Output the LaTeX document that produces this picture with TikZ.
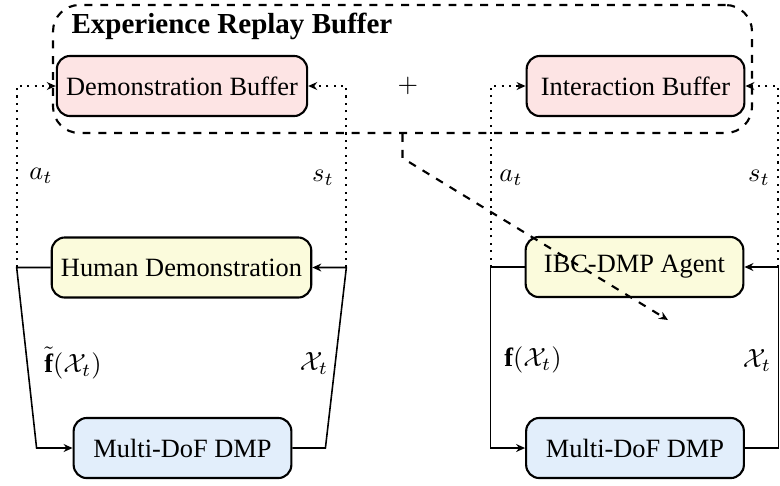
\documentclass[tikz,border=0pt]{standalone}
\usepackage{fontspec}
\setmainfont{Liberation Serif}
\usepackage{amsmath,amssymb}
\usetikzlibrary{arrows.meta, positioning, calc, fit}
\definecolor{BufferPink}{HTML}{FDE4E4}
\definecolor{AgentYellow}{HTML}{FBFBDC}
\definecolor{DmpBlue}{HTML}{E2EEFB}
\tikzset{
  >={Stealth[length=3.4pt, width=3pt, inset=1.1pt]},
  block/.style={draw, thick, rounded corners=5pt, minimum height=0.8cm,
                minimum width=2.9cm, inner sep=3.5pt},
  buffer/.style={block, fill=BufferPink},
  agent/.style={block, fill=AgentYellow},
  dmp/.style={block, fill=DmpBlue},
  flow/.style={->, semithick},
  store/.style={->, dotted, thick},
}
\begin{document}
\begin{tikzpicture}[x=0.379pt, y=-0.379pt]
        \useasboundingbox (0,0) rectangle (780,485);
        % buffers
        \node[buffer] (demo) at (182,86) {Demonstration Buffer};
        \node[buffer] (inter) at (635.5,86) {Interaction Buffer};
        \node (plus) at (408,86) {$+$};
        \node[anchor=west, inner sep=0pt] (title) at (71,26)
          {\fontsize{11}{13}\selectfont\bfseries Experience Replay Buffer};
        \node[draw, thick, dashed, rounded corners=10pt, inner sep=0pt,
              fit={(53,5) (752,133)}] (replay) {};
        % demonstration loop
        \node[agent] (human) at (181.5,267.5) {Human Demonstration};
        \node[dmp] (dmp1) at (182.5,448) {Multi-DoF DMP};
        \coordinate (hl) at ($(human.west)+(-34,0)$);
        \coordinate (hr) at ($(human.east)+(34,0)$);
        \draw[flow] (human.west) -- (hl) -- ($(dmp1.west)+(-36,0)$) -- (dmp1.west);
        \draw[flow] (dmp1.east) -- ++(33,0) -- (hr) -- (human.east);
        \draw[store] (hl) |- (demo.west);
        \draw[store] (hr) |- (demo.east);
        \node (a1) at (41,176) {$a_t$};
        \node (s1) at (323,178) {$s_t$};
        \node (f1) at (73,363) {$\tilde{\mathbf{f}}(\mathcal{X}_t)$};
        \node (x1) at (314,363) {$\mathcal{X}_t$};
        % interaction loop
        \node[agent] (agent) at (634.5,267) {IBC-DMP Agent};
        \node[dmp] (dmp2) at (635,448) {Multi-DoF DMP};
        \coordinate (al) at ($(agent.west)+(-34,0)$);
        \coordinate (ar) at ($(agent.east)+(34,0)$);
        \draw[flow] (agent.west) -- (al) |- (dmp2.west);
        \draw[flow] (dmp2.east) -- (dmp2.east -| ar) -- (ar) -- (agent.east);
        \draw[store] (al) |- (inter.west);
        \draw[store] (ar) |- (inter.east);
        \node (a2) at (511,178) {$a_t$};
        \node (s2) at (759,178) {$s_t$};
        \node (f2) at (533,360) {$\mathbf{f}(\mathcal{X}_t)$};
        \node (x2) at (757,360) {$\mathcal{X}_t$};
        % sampling
        \coordinate (sample) at (668,320);
        \draw[->, thick, dashed] (replay.south) -- ++(0,24) -- (sample);
      \end{tikzpicture}
\end{document}
